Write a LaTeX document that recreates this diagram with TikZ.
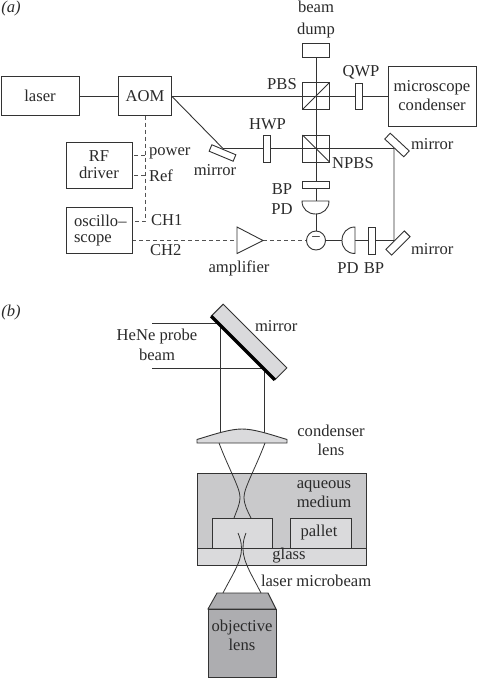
\documentclass[tikz,border=0pt]{standalone}
\usepackage{fontspec}
\setmainfont{Liberation Serif}
\pgfdeclarelayer{beamlayer}
\pgfsetlayers{beamlayer,main}
\definecolor{ink}{HTML}{333333}
\definecolor{txt}{HTML}{2A2A2A}
\definecolor{medium}{HTML}{C9C9CB}
\definecolor{pale}{HTML}{DADADC}
\definecolor{objgray}{HTML}{ADADB0}
\tikzset{
  x=1pt,y=-1pt,
  box/.style={draw=ink,line width=0.9pt,fill=white,rectangle,inner sep=0pt,outer sep=0pt,text=txt,align=center,font=\fontsize{16.6}{19}\selectfont},
  cube/.style={draw=ink,line width=0.9pt,rectangle,inner sep=0pt,outer sep=0pt,minimum width=27pt,minimum height=27pt},
  lab/.style={text=txt,inner sep=0pt,outer sep=0pt,font=\fontsize{16.6}{19}\selectfont,align=center},
  beamline/.style={line width=0.9pt,draw=ink},
  partline/.style={line width=0.9pt,draw=ink},
  dashline/.style={line width=1pt,draw=ink!85,dash pattern=on 4pt off 3pt},
}
\begin{document}
\begin{tikzpicture}
\useasboundingbox (0,0) rectangle (477,678);
% ---------- part (a) nodes
\node[lab,font=\fontsize{16.6}{19}\selectfont\itshape] (la) at (11,9) {(a)};
\node[lab] (lbd) at (316,20) {beam\\[3pt]dump};
\node[box,minimum width=78pt,minimum height=39pt] (laser) at (40,96) {laser};
\node[box,minimum width=53pt,minimum height=39pt] (aom) at (145,96) {AOM};
\node[box,minimum width=27pt,minimum height=14pt] (dump) at (316,50) {};
\node[cube] (pbs) at (316,96) {};
\draw[partline] (pbs.south west) -- (pbs.north east);
\node[box,minimum width=7pt,minimum height=26pt] (qwp) at (358.5,96) {};
\node[box,minimum width=88pt,minimum height=60pt] (micro) at (432,96) {microscope\\condenser};
\node[cube] (npbs) at (316,148.5) {};
\draw[partline] (npbs.north west) -- (npbs.south east);
\node[box,minimum width=7pt,minimum height=27pt] (hwp) at (266.5,148.5) {};
\node[box,rotate=-22.6,minimum width=26pt,minimum height=7pt] (m1) at (222.5,153) {};
\node[box,rotate=-43,minimum width=26pt,minimum height=8pt] (m2) at (397,145) {};
\node[box,rotate=45,minimum width=26pt,minimum height=8pt] (m3) at (398,243) {};
\node[box,minimum width=27pt,minimum height=7pt] (bp1) at (316,184.5) {};
\node[box,minimum width=7pt,minimum height=27pt] (bp2) at (371.5,240.5) {};
\node[box,circle,minimum size=19pt] (sub) at (316,240.5) {\raisebox{1pt}{−}};
\node[box,minimum width=66pt,minimum height=46pt] (rf) at (99,165) {RF\\[-2pt]driver};
\node[box,minimum width=66pt,minimum height=46pt] (osc) at (99,230) {};
\node[lab,anchor=west] (osctxt) at (74,221) {oscillo–};
\node[lab,anchor=west] (osctxt2) at (74,240) {scope};
\draw[partline,fill=white] (302,201) -- (329,201) .. controls (329,209) and (323,214) .. (315.5,214) .. controls (308,214) and (302,209) .. (302,201) -- cycle;
\draw[partline,fill=white] (355,227) -- (355,253.5) .. controls (347,253.5) and (342,248) .. (342,240.5) .. controls (342,233) and (347,227) .. (355,227) -- cycle;
\draw[partline,fill=white] (237,227) -- (237,253.5) -- (263,240.5) -- cycle;
\coordinate (ampin) at (237,240.5);
\coordinate (ampout) at (263,240.5);
\coordinate (mref) at (223,148.5);
\coordinate (mtop) at (394,148.5);
\coordinate (mbot) at (394,240.5);
\coordinate (pw) at (145,155);
\coordinate (rfb) at (145,175);
\coordinate (chj) at (145,221);
% beams behind the parts
\begin{pgfonlayer}{beamlayer}
\draw[beamline] (laser.east) -- (aom.west);
\draw[beamline] (aom.east) -- (micro.west);
\draw[beamline] (aom.east) -- (mref) -- (mtop) -- (mbot) -- (sub.east);
\draw[beamline] (dump.south) -- (sub.north);
\draw[dashline] (aom.south) -- (chj) -- (osc.east |- chj);
\draw[dashline] (pw) -- (rf.east |- pw);
\draw[dashline] (rfb) -- (rf.east |- rfb);
\draw[dashline] (osc.east |- ampin) -- (ampin);
\draw[dashline] (ampout) -- (sub.west);
\end{pgfonlayer}
% labels (a)
\node[lab] (lpbs) at (282,84) {PBS};
\node[lab] (lqwp) at (361,72) {QWP};
\node[lab] (lhwp) at (267.5,124) {HWP};
\node[lab] (lnpbs) at (353,163) {NPBS};
\node[lab] (lbp) at (282,189) {BP};
\node[lab] (lpd) at (282,209) {PD};
\node[lab] (lm1) at (215,170) {mirror};
\node[lab,anchor=west] (lm2) at (411,144) {mirror};
\node[lab,anchor=west] (lm3) at (411,249) {mirror};
\node[lab] (lamp) at (239,268) {amplifier};
\node[lab] (lpd2) at (348,268) {PD};
\node[lab] (lbp2) at (374,268) {BP};
\node[lab,anchor=west] (lpow) at (149,153) {power};
\node[lab,anchor=west] (lref) at (149,176) {Ref};
\node[lab,anchor=west] (lch1) at (151,220) {CH1};
\node[lab,anchor=west] (lch2) at (150,250) {CH2};
% ---------- part (b)
\node[lab,font=\fontsize{16.6}{19}\selectfont\itshape] (lb) at (11,313) {(b)};
\coordinate (hea) at (152,323);
\coordinate (heb) at (152,368);
\coordinate (ra) at (220,323);
\coordinate (rb) at (264,368);
\coordinate (rc) at (220,436);
\coordinate (rd) at (264,436);
\draw[beamline] (hea) -- (ra) -- (rc);
\draw[beamline] (heb) -- (rb) -- (rd);
\node[box,fill=pale,rotate=-45,minimum width=90pt,minimum height=17pt] (mb) at (249,342) {};
\draw[line width=3.4pt,draw=black] (mb.south west) -- (mb.south east);
\draw[partline,fill=pale] (197,443) -- (197,439.5) .. controls (215,434) and (230,429) .. (242,429) .. controls (254,429) and (269,434) .. (287,439.5) -- (287,443) -- cycle;
\node[box,fill=medium,minimum width=169pt,minimum height=75pt] (aq) at (281.5,510.5) {};
\node[box,fill=pale,minimum width=60pt,minimum height=30pt] (p1) at (242,533) {};
\node[box,fill=pale,minimum width=61pt,minimum height=30pt] (p2) at (320.5,533) {};
\node[box,fill=pale,minimum width=169pt,minimum height=17pt] (gl) at (281.5,556.5) {};
\draw[partline,fill=objgray] (217,593) -- (268,593) -- (276,609) -- (208,609) -- cycle;
\node[box,fill=objgray,minimum width=68pt,minimum height=68pt] (obj) at (242,643) {};
\coordinate (t1) at (219,443);
\coordinate (t2) at (265,443);
\coordinate (t3) at (234,518);
\coordinate (t4) at (251,518);
\coordinate (t5) at (238,533);
\coordinate (t6) at (246,533);
\coordinate (t7) at (223,593);
\coordinate (t8) at (261,593);
\draw[beamline,line width=0.8pt] (t1) .. controls (228,467) and (240,488) .. (240,497) .. controls (240,505) and (236,512) .. (t3);
\draw[beamline,line width=0.8pt] (t2) .. controls (256,467) and (244,488) .. (244,497) .. controls (244,505) and (248,512) .. (t4);
\draw[beamline,line width=0.8pt] (t5) .. controls (240,538) and (241.5,542) .. (241.5,549) .. controls (241.5,562) and (231,577) .. (t7);
\draw[beamline,line width=0.8pt] (t6) .. controls (244,538) and (243,542) .. (243,549) .. controls (243,562) and (253,577) .. (t8);
% labels (b)
\node[lab,anchor=west] (lmb) at (255,326) {mirror};
\node[lab] (lhe) at (157,345) {HeNe probe\\[1pt]beam};
\node[lab] (lcond) at (331,440.5) {condenser\\[0pt]lens};
\node[lab] (laq) at (324,494) {aqueous\\[0pt]medium};
\node[lab] (lpal) at (319,533) {pallet};
\node[lab] (lgl) at (289,556) {glass};
\node[lab,anchor=west] (llm) at (261,581) {laser microbeam};
\node[lab] (lobj) at (242,635) {objective\\[0pt]lens};
\end{tikzpicture}
\end{document}
